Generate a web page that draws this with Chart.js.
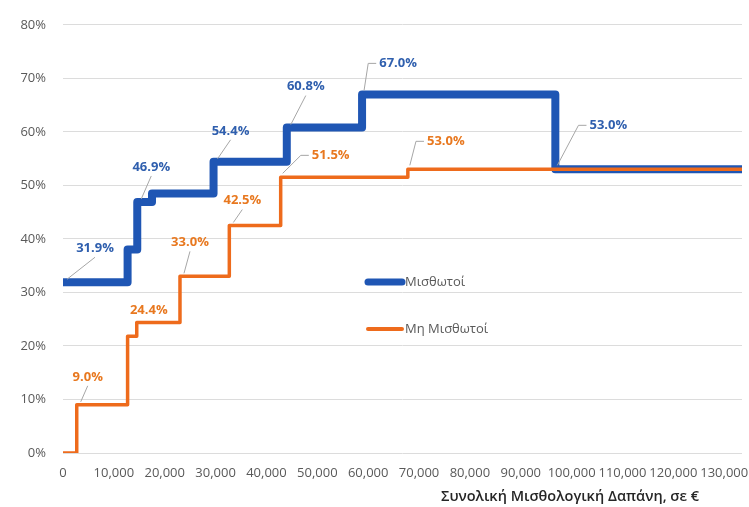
<!DOCTYPE html>
<html>
<head>
<meta charset="utf-8">
<script src="https://cdn.jsdelivr.net/npm/chart.js@4/dist/chart.umd.min.js"></script>
<style>
  html, body { margin: 0; padding: 0; background: #ffffff; }
  #wrap { width: 749px; height: 507px; }
</style>
</head>
<body>
<div id="wrap"><canvas id="c" width="749" height="507"></canvas></div>
<script>
// ---- Data ----
const seriesNames = ['Μισθωτοί', 'Μη Μισθωτοί'];
const blueX = [0, 12700, 14600, 17500, 29600, 44000, 58800, 96800, 133500];
const blueValues = [31.9, 38.0, 46.9, 48.5, 54.4, 60.8, 67.0, 53.0, 53.0];
const orangeX = [0, 2700, 12700, 14500, 23000, 32700, 42800, 67800, 133500];
const orangeValues = [0.0, 9.0, 21.8, 24.4, 33.0, 42.5, 51.5, 53.0, 53.0];
const xTickValues = [0, 10000, 20000, 30000, 40000, 50000, 60000, 70000, 80000, 90000, 100000, 110000, 120000, 130000];
const yTickValues = [0, 10, 20, 30, 40, 50, 60, 70, 80];
const xAxisTitle = 'Συνολική Μισθολογική Δαπάνη, σε €';

// ---- Styling / annotation config ----
const BLUE = '#1f56b4';
const ORANGE = '#ee6b1c';
const BLUE_TEXT = '#2f5fae';
const ORANGE_TEXT = '#e8781f';
const labelSpecs = [
  {ds: 0, i: 0, dx: 32, dy: -34},
  {ds: 0, i: 2, dx: 14, dy: -35},
  {ds: 0, i: 4, dx: 17, dy: -31},
  {ds: 0, i: 5, dx: 19, dy: -41},
  {ds: 0, i: 6, dx: 36, dy: -31, elbow: true},
  {ds: 0, i: 7, dx: 53, dy: -44, elbow: true},
  {ds: 1, i: 1, dx: 11, dy: -28},
  {ds: 1, i: 3, dx: 12, dy: -12, leader: false},
  {ds: 1, i: 4, dx: 10, dy: -34},
  {ds: 1, i: 5, dx: 13, dy: -25},
  {ds: 1, i: 6, dx: 50, dy: -22, elbow: true},
  {ds: 1, i: 7, dx: 38, dy: -28, elbow: true}
];
const legendSpec = [
  {ds: 0, x: 365, y: 282, len: 37},
  {ds: 1, x: 365, y: 329, len: 37}
];

function toPoints(xs, ys) { return xs.map((x, k) => ({x: x, y: ys[k]})); }

const labelPlugin = {
  id: 'stepLabels',
  afterDatasetsDraw(chart) {
    const ctx = chart.ctx;
    ctx.save();
    ctx.font = 'bold 13px "Open Sans"';
    ctx.textAlign = 'center';
    ctx.textBaseline = 'middle';
    labelSpecs.forEach(s => {
      const meta = chart.getDatasetMeta(s.ds);
      const pt = meta.data[s.i];
      const val = chart.data.datasets[s.ds].data[s.i].y;
      const txt = val.toFixed(1) + '%';
      const lx = pt.x + s.dx, ly = pt.y + s.dy;
      const w = ctx.measureText(txt).width;
      if (s.leader !== false) {
        ctx.strokeStyle = '#a6a6a6';
        ctx.lineWidth = 1;
        ctx.beginPath();
        if (s.elbow) {
          const L = lx - w / 2;
          ctx.moveTo(L - 3, ly);
          ctx.lineTo(L - 11, ly);
          ctx.lineTo(pt.x + 2, pt.y - 4);
        } else {
          ctx.moveTo(lx, ly + 9);
          ctx.lineTo(pt.x + 4, pt.y - 3);
        }
        ctx.stroke();
      }
      ctx.fillStyle = s.ds === 0 ? BLUE_TEXT : ORANGE_TEXT;
      ctx.fillText(txt, lx, ly);
    });
    // legend
    ctx.font = '13px "Open Sans"';
    ctx.textAlign = 'left';
    legendSpec.forEach(l => {
      const ds = chart.data.datasets[l.ds];
      ctx.strokeStyle = ds.borderColor;
      ctx.lineWidth = l.ds === 0 ? 7 : 4;
      ctx.lineCap = 'round';
      ctx.beginPath();
      ctx.moveTo(l.x + 3, l.y);
      ctx.lineTo(l.x + l.len, l.y);
      ctx.stroke();
      ctx.fillStyle = '#595959';
      ctx.fillText(ds.label, l.x + l.len + 3, l.y);
    });
    // axis title
    ctx.font = '600 14.5px "Open Sans"';
    ctx.fillStyle = '#262626';
    ctx.textAlign = 'left';
    ctx.fillText(xAxisTitle, 441, 497);
    ctx.restore();
  }
};

new Chart(document.getElementById('c'), {
  type: 'line',
  data: {
    datasets: [
      {
        label: seriesNames[0],
        data: toPoints(blueX, blueValues),
        borderColor: BLUE,
        backgroundColor: BLUE,
        borderWidth: 8,
        stepped: 'before',
        pointRadius: 0,
        borderJoinStyle: 'round',
        order: 1
      },
      {
        label: seriesNames[1],
        data: toPoints(orangeX, orangeValues),
        borderColor: ORANGE,
        backgroundColor: ORANGE,
        borderWidth: 3.5,
        stepped: 'before',
        pointRadius: 0,
        borderJoinStyle: 'round',
        order: 0
      }
    ]
  },
  options: {
    responsive: false,
    animation: false,
    layout: { padding: { top: 20, right: 7, left: 0, bottom: 0 } },
    plugins: {
      legend: { display: false },
      tooltip: { enabled: false }
    },
    scales: {
      x: {
        type: 'linear',
        min: 0,
        max: 133500,
        afterBuildTicks: (scale) => { scale.ticks = xTickValues.map(v => ({value: v})); },
        afterFit: (scale) => { scale.height = 54; scale.paddingRight = 0; scale.paddingLeft = 0; },
        grid: { display: false, drawTicks: false },
        border: { display: false },
        ticks: {
          autoSkip: false,
          maxRotation: 0,
          padding: 12,
          color: '#595959',
          font: { family: 'Open Sans', size: 13 },
          callback: (v) => Number(v).toLocaleString('en-US')
        }
      },
      y: {
        min: 0,
        max: 80,
        afterBuildTicks: (scale) => { scale.ticks = yTickValues.map(v => ({value: v})); },
        afterFit: (scale) => { scale.width = 63; },
        grid: { color: '#dcdcdc', lineWidth: 1, drawTicks: false },
        border: { display: false },
        ticks: {
          padding: 17,
          color: '#595959',
          font: { family: 'Open Sans', size: 13 },
          callback: (v) => v + '%'
        }
      }
    }
  },
  plugins: [labelPlugin]
});
</script>
</body>
</html>
